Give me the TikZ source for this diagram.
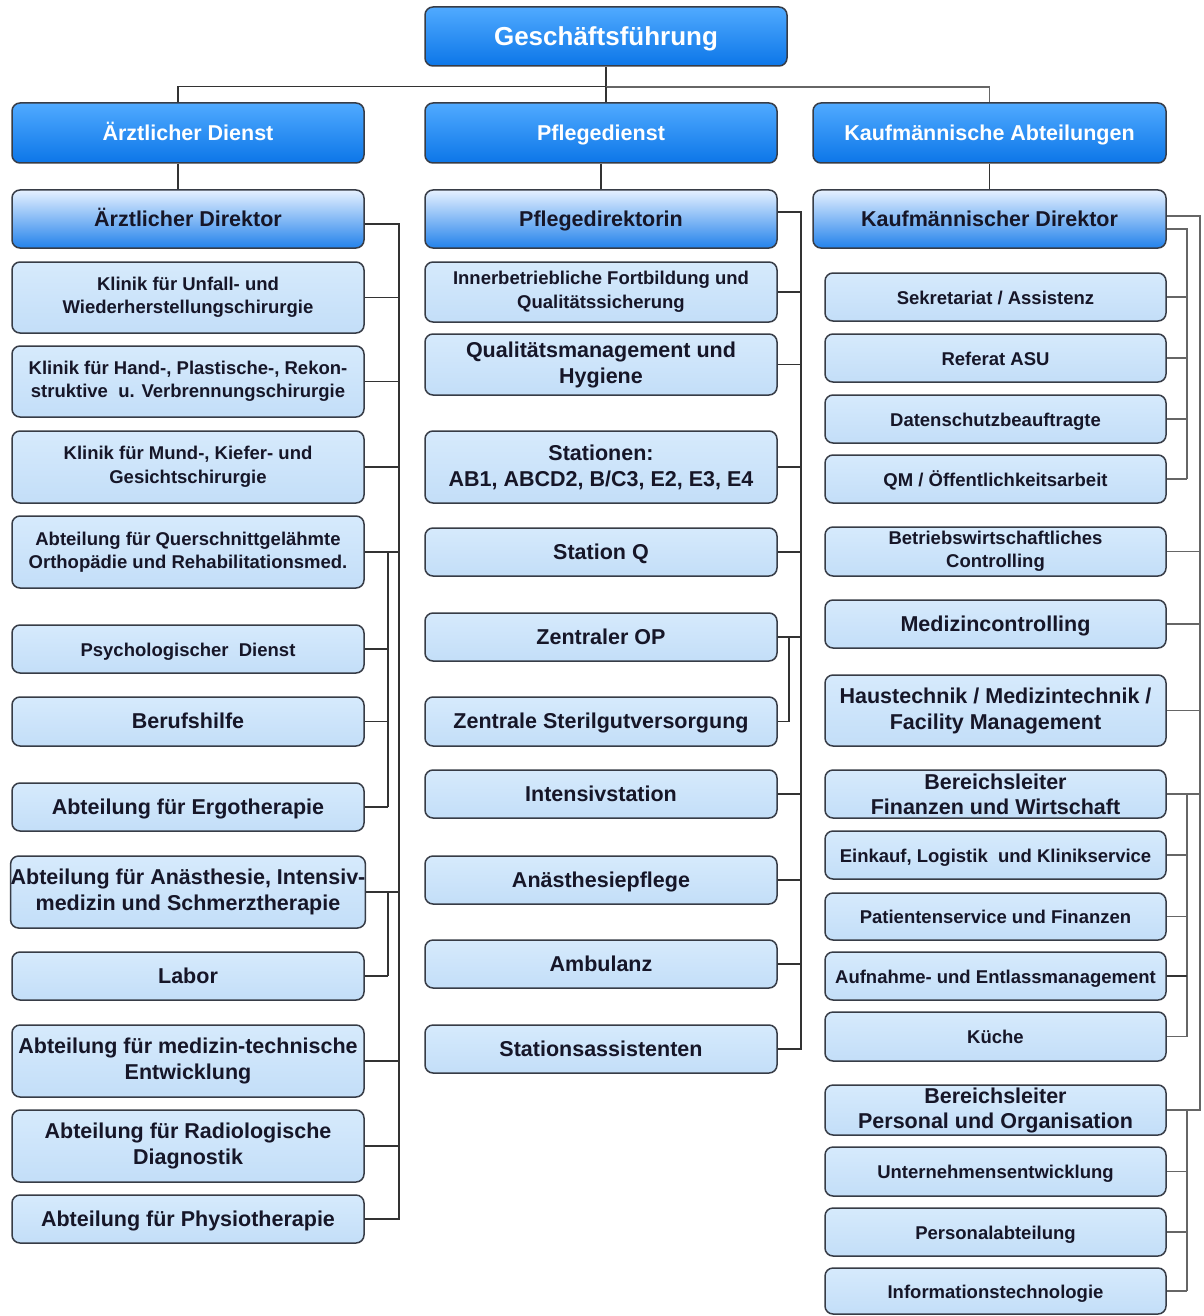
\documentclass[tikz,border=0pt]{standalone}
\usepackage{fontspec}
\setmainfont{Liberation Sans}
\newcommand\txs{\fontsize{18.5}{23.5}\selectfont\bfseries}
\newcommand\txl{\fontsize{21.5}{26}\selectfont\bfseries}
\newcommand\txg{\fontsize{26}{30}\selectfont\bfseries}
\definecolor{txtc}{RGB}{22,22,40}
\definecolor{leafA}{RGB}{214,234,252}
\definecolor{leafB}{RGB}{195,222,248}
\definecolor{dirA}{RGB}{230,241,255}
\definecolor{dirM}{RGB}{160,205,250}
\definecolor{dirB}{RGB}{35,130,235}
\definecolor{topA}{RGB}{80,170,255}
\definecolor{topB}{RGB}{12,118,232}
\definecolor{edgec}{RGB}{55,60,70}
\begin{document}
\begin{tikzpicture}[x=1pt,y=-1pt,
  box/.style={draw=edgec, line width=1.5pt, rounded corners=8pt, inner sep=0pt, align=center, text=txtc},
  leaf/.style={box, top color=leafA, bottom color=leafB},
  oneline/.style={text height=14.5pt, text depth=0pt},
  dir/.style={box, top color=dirA, middle color=dirM, bottom color=dirB, font=\txl, oneline},
  lvA/.style={box, top color=topA, bottom color=topB, text=white},
  wl/.style={minimum width=352pt},
  wr/.style={minimum width=341pt},
  conn/.style={line width=1.4pt, draw=black!80},
  conng/.style={line width=1.6pt, draw=black!60}]
\useasboundingbox (0,0) rectangle (1203,1316);
\fill[white] (0,0) rectangle (1203,1316);

% top levels
\node[lvA, minimum width=362pt, minimum height=59pt, font=\txg, text height=18pt, text depth=0pt] (gf) at (606,36.5) {Geschäftsführung};
\node[lvA, wl, minimum height=60pt, font=\txl, oneline] (aed) at (188,133) {Ärztlicher Dienst};
\node[lvA, wl, minimum height=60pt, font=\txl, oneline] (pd) at (601,133) {Pflegedienst};
\node[lvA, minimum width=353pt, minimum height=60pt, font=\txl, oneline] (ka) at (989.5,133) {Kaufmännische Abteilungen};

\node[dir, wl, minimum height=58pt] (adir) at (188,219) {Ärztlicher Direktor};
\node[dir, wl, minimum height=58pt] (pdir) at (601,219) {Pflegedirektorin};
\node[dir, minimum width=353pt, minimum height=58pt] (kdir) at (989.5,219) {Kaufmännischer Direktor};

% left column
\node[leaf, wl, minimum height=71pt, font=\txs] (l1) at (188,297.5) {Klinik für Unfall- und\\Wiederherstellungschirurgie};
\node[leaf, wl, minimum height=71pt, font=\txs] (l2) at (188,381.5) {Klinik für Hand-, Plastische-, Rekon-\\struktive\ \ u. Verbrennungschirurgie};
\node[leaf, wl, minimum height=72pt, font=\txs] (l3) at (188,467) {Klinik für Mund-, Kiefer- und\\Gesichtschirurgie};
\node[leaf, wl, minimum height=72pt, font=\txs] (l4) at (188,552) {Abteilung für Querschnittgelähmte\\Orthopädie und Rehabilitationsmed.};
\node[leaf, wl, minimum height=48pt, font=\txs, oneline] (l5) at (188,649) {Psychologischer\ \ Dienst};
\node[leaf, wl, minimum height=49pt, font=\txl, oneline] (l6) at (188,721.5) {Berufshilfe};
\node[leaf, wl, minimum height=48pt, font=\txl, oneline] (l7) at (188,807) {Abteilung für Ergotherapie};
\node[leaf, wl, minimum height=72pt, font=\txl] (l8) at (188,892) {Abteilung für Anästhesie, Intensiv-\\medizin und Schmerztherapie};
\node[leaf, wl, minimum height=48pt, font=\txl, oneline] (l9) at (188,976) {Labor};
\node[leaf, wl, minimum height=72pt, font=\txl] (l10) at (188,1061) {Abteilung für medizin-technische\\Entwicklung};
\node[leaf, wl, minimum height=72pt, font=\txl] (l11) at (188,1146) {Abteilung für Radiologische\\Diagnostik};
\node[leaf, wl, minimum height=48pt, font=\txl, oneline] (l12) at (188,1219) {Abteilung für Physiotherapie};

% middle column
\node[leaf, wl, minimum height=60pt, font=\txs] (m1) at (601,292) {Innerbetriebliche Fortbildung und\\Qualitätssicherung};
\node[leaf, wl, minimum height=61pt, font=\txl] (m2) at (601,364.5) {Qualitätsmanagement und\\Hygiene};
\node[leaf, wl, minimum height=72pt, font=\txl] (m3) at (601,467) {Stationen:\\AB1, ABCD2, B/C3, E2, E3, E4};
\node[leaf, wl, minimum height=48pt, font=\txl, oneline] (m4) at (601,552) {Station Q};
\node[leaf, wl, minimum height=48pt, font=\txl, oneline] (m5) at (601,637) {Zentraler OP};
\node[leaf, wl, minimum height=49pt, font=\txl, oneline] (m6) at (601,721.5) {Zentrale Sterilgutversorgung};
\node[leaf, wl, minimum height=48pt, font=\txl, oneline] (m7) at (601,794) {Intensivstation};
\node[leaf, wl, minimum height=48pt, font=\txl, oneline] (m8) at (601,880) {Anästhesiepflege};
\node[leaf, wl, minimum height=48pt, font=\txl, oneline] (m9) at (601,964) {Ambulanz};
\node[leaf, wl, minimum height=48pt, font=\txl, oneline] (m10) at (601,1049) {Stationsassistenten};

% right column
\node[leaf, wr, minimum height=48pt, font=\txs, oneline] (r1) at (995.5,297) {Sekretariat / Assistenz};
\node[leaf, wr, minimum height=48pt, font=\txs, oneline] (r2) at (995.5,358) {Referat ASU};
\node[leaf, wr, minimum height=48pt, font=\txs, oneline] (r3) at (995.5,419) {Datenschutzbeauftragte};
\node[leaf, wr, minimum height=48pt, font=\txs, oneline] (r4) at (995.5,479) {QM / Öffentlichkeitsarbeit};
\node[leaf, wr, minimum height=49pt, font=\txs] (r5) at (995.5,551.5) {Betriebswirtschaftliches\\Controlling};
\node[leaf, wr, minimum height=48pt, font=\txl, oneline] (r6) at (995.5,624) {Medizincontrolling};
\node[leaf, wr, minimum height=71pt, font=\txl] (r7) at (995.5,710.5) {Haustechnik / Medizintechnik /\\Facility Management};
\node[leaf, wr, minimum height=48pt, font=\fontsize{21.5}{25}\selectfont\bfseries] (r8) at (995.5,794) {Bereichsleiter\\Finanzen und Wirtschaft};
\node[leaf, wr, minimum height=48pt, font=\txs, oneline] (r9) at (995.5,855) {Einkauf, Logistik\ \ und Klinikservice};
\node[leaf, wr, minimum height=47pt, font=\txs, oneline] (r10) at (995.5,916.5) {Patientenservice und Finanzen};
\node[leaf, wr, minimum height=48pt, font=\txs, oneline] (r11) at (995.5,976) {Aufnahme- und Entlassmanagement};
\node[leaf, wr, minimum height=49pt, font=\txs, oneline] (r12) at (995.5,1036.5) {Küche};
\node[leaf, wr, minimum height=50pt, font=\fontsize{21.5}{25}\selectfont\bfseries] (r13) at (995.5,1110) {Bereichsleiter\\Personal und Organisation};
\node[leaf, wr, minimum height=49pt, font=\txs, oneline] (r14) at (995.5,1171.5) {Unternehmensentwicklung};
\node[leaf, wr, minimum height=48pt, font=\txs, oneline] (r15) at (995.5,1232) {Personalabteilung};
\node[leaf, wr, minimum height=46pt, font=\txs, oneline] (r16) at (995.5,1291) {Informationstechnologie};

% trunk coordinates
\coordinate (lt) at (399,0);
\coordinate (ls) at (388,0);
\coordinate (mt) at (801,0);
\coordinate (ms) at (789,0);
\coordinate (rt) at (1200,0);
\coordinate (rs) at (1187,0);

% top connectors
\draw[conn] (gf.south) -- ++(0,20) coordinate (hb);
\draw[conn] ([xshift=-10pt]aed.north) |- (hb);
\draw[conng] (hb) -| (ka.north);
\draw[conn] (hb) -- (hb |- pd.north);
\draw[conn] ([xshift=-10pt]aed.south) -- ([xshift=-10pt]adir.north);
\draw[conn] (pd.south) -- (pdir.north);
\draw[conn] (ka.south) -- (kdir.north);

% left
\draw[conn] ([yshift=-5pt]adir.east) -| (lt |- l12.east) -- (l12.east);
\foreach \n in {l1,l2,l3,l4,l8,l10,l11} \draw[conn] (\n.east) -- (\n.east -| lt);
\draw[conn] (l4.east -| ls) -- (ls |- l7.east);
\foreach \n in {l5,l6,l7} \draw[conn] (\n.east) -- (\n.east -| ls);
\draw[conn] (l8.east -| ls) -- (ls |- l9.east);
\draw[conn] (l9.east) -- (l9.east -| ls);

% middle
\draw[conn] ([yshift=7pt]pdir.east) -| (mt |- m10.east) -- (m10.east);
\foreach \n in {m1,m2,m3,m4,m5,m7,m8,m9} \draw[conn] (\n.east) -- (\n.east -| mt);
\draw[conn] (m5.east -| ms) |- (m6.east);

% right
\draw[conng] ([yshift=3pt]kdir.east) -| (rt |- r13.east) -- (r13.east);
\draw[conng] ([yshift=-10pt]kdir.east) -| (rs |- r4.east);
\foreach \n in {r1,r2,r3,r4} \draw[conng] (\n.east) -- (\n.east -| rs);
\foreach \n in {r5,r6,r7,r8} \draw[conng] (\n.east) -- (\n.east -| rt);
\draw[conng] (r8.east -| rs) -- (rs |- r12.east);
\foreach \n in {r9,r10,r12} \draw[conng] (\n.east) -- (\n.east -| rs);
\draw[conn, line width=2pt] (r11.east) -- (r11.east -| rs);
\draw[conng] (r13.east -| rs) -- (rs |- r16.east);
\foreach \n in {r14,r15,r16} \draw[conng] (\n.east) -- (\n.east -| rs);
\end{tikzpicture}
\end{document}
